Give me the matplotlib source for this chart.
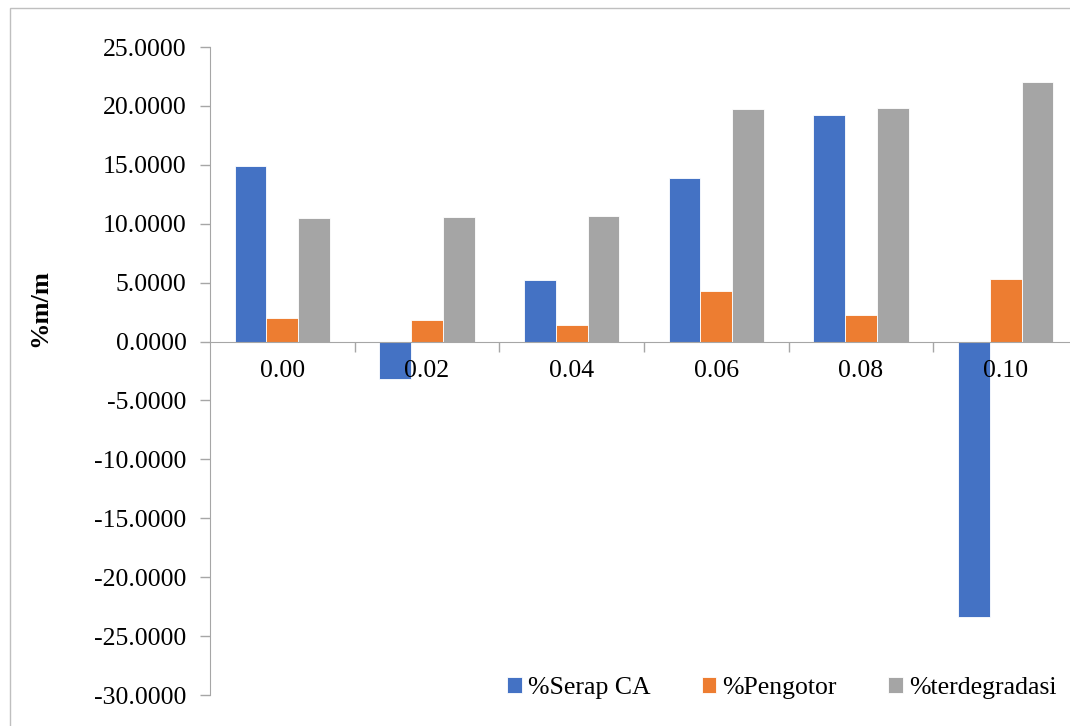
import numpy as np
import matplotlib
matplotlib.use("Agg")
import matplotlib.pyplot as plt
from matplotlib.patches import Rectangle

plt.rcParams["font.family"] = ["Liberation Serif", "DejaVu Serif"]

# ================= DATA =================
konsentrasi = ["0.00", "0.02", "0.04", "0.06", "0.08", "0.10"]
serap_ca = [14.92, -3.17, 5.24, 13.90, 19.27, -23.34]
pengotor = [1.99, 1.84, 1.39, 4.33, 2.24, 5.35]
terdegradasi = [10.47, 10.53, 10.67, 19.73, 19.81, 22.02]
y_ticks = [-30, -25, -20, -15, -10, -5, 0, 5, 10, 15, 20, 25]

series = [
    ("%Serap CA", serap_ca, "#4472C4"),
    ("%Pengotor", pengotor, "#ED7D31"),
    ("%terdegradasi", terdegradasi, "#A5A5A5"),
]

# ================= PLOT =================
fig = plt.figure(figsize=(10.70, 7.26), dpi=100)
ax = fig.add_axes([210 / 1070, 31 / 726, 868 / 1070, 648 / 726])

x = np.arange(len(konsentrasi))
width = 0.22
for i, (label, values, color) in enumerate(series):
    ax.bar(x + (i - 1) * width, values, width, color=color,
           edgecolor="white", linewidth=0.6, label=label, zorder=2)

axis_color = "#A6A6A6"
ax.set_xlim(-0.5, len(konsentrasi) - 0.5)
ax.set_ylim(-30, 25)
ax.set_yticks(y_ticks)
ax.set_yticklabels([f"{v:.4f}" for v in y_ticks])

# category boundaries carry the tick marks, centres carry the labels
ax.set_xticks(np.arange(len(konsentrasi)) + 0.5)
ax.set_xticklabels([])
ax.set_xticks(x, minor=True)
ax.set_xticklabels(konsentrasi, minor=True)
ax.tick_params(axis="x", which="major", direction="out", length=7,
               color=axis_color, width=1)
ax.tick_params(axis="x", which="minor", length=0, pad=13, labelsize=18.5)
ax.tick_params(axis="y", direction="out", length=7, color=axis_color,
               width=1, pad=10, labelsize=18.5)
# category labels sit on top of the negative bars
ax.xaxis.set_zorder(4)

ax.spines["bottom"].set_position(("data", 0))
ax.spines["bottom"].set_color(axis_color)
ax.spines["left"].set_color(axis_color)
ax.spines["top"].set_visible(False)
ax.spines["right"].set_visible(False)
ax.spines["bottom"].set_zorder(3)

fig.text(40 / 1070, 1 - 308 / 726, "%m/m", rotation=90, fontsize=19,
         fontweight="bold", ha="center", va="center")

fig.legend(loc="center", bbox_to_anchor=(782 / 1070, 1 - 688 / 726),
           ncol=3, frameon=False, fontsize=18.5, handlelength=0.55,
           handleheight=0.55, handletextpad=0.25, columnspacing=2.0)

# outer chart border
fig.patches.append(Rectangle((10 / 1070, -0.05), 1.2, 1 - 8 / 726 + 0.05,
                             transform=fig.transFigure, fill=False,
                             edgecolor="#BFBFBF", linewidth=1))

fig.savefig("out.png", dpi=100)
